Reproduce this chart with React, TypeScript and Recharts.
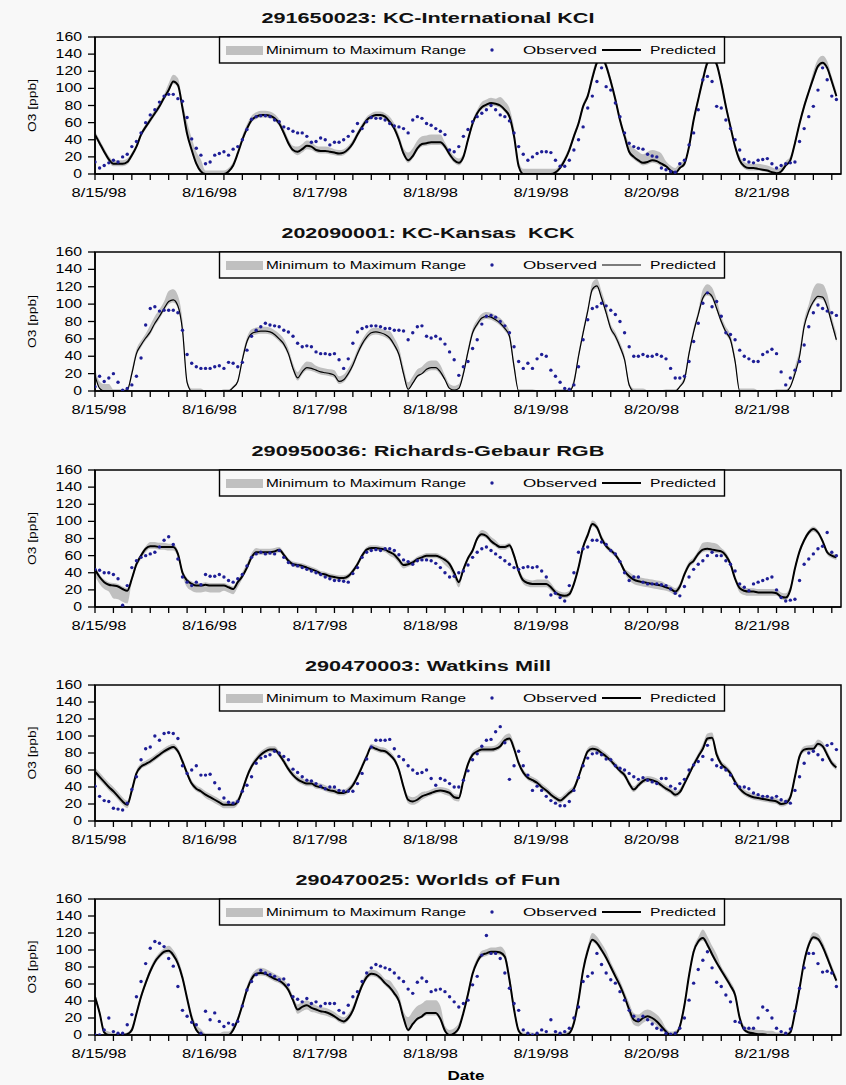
import React from 'react';
import { ComposedChart, Line, Area, XAxis, YAxis, ReferenceArea } from 'recharts';

const FONT = 'Liberation Sans, Arial, sans-serif';
const BG = '#f8f8f8';
const DOT = '#1e1e96';
const BAND = '#c0c0c0';

const dayLabels = ['8/15/98', '8/16/98', '8/17/98', '8/18/98', '8/19/98', '8/20/98', '8/21/98'];
const yTicks = [0, 20, 40, 60, 80, 100, 120, 140, 160];
const xTicks = [0, 4, 8, 12, 16, 20, 24, 28, 32, 36, 40, 44, 48, 52, 56, 60, 64, 68, 72, 76, 80, 84, 88, 92, 96, 100, 104, 108, 112, 116, 120, 124, 128, 132, 136, 140, 144, 148, 152, 156, 160];
const hours = Array.from({ length: 162 }, (_, i) => i);

// ---------- Panel 1: KCI ----------
const p1Pred = [
  46, 36, 26, 17, 12, 12, 12, 14, 22, 32, 46, 55,
  63, 71, 79, 89, 98, 108, 104, 77, 47, 28, 12, 3,
  0, 0, 0, 0, 0, 3, 10, 24, 40, 53, 63, 67,
  69, 69, 68, 65, 59, 48, 36, 28, 26, 29, 33, 32,
  28, 27, 27, 26, 25, 24, 25, 29, 36, 46, 55, 63,
  67, 69, 69, 67, 61, 53, 40, 24, 16, 21, 30, 35,
  36, 37, 37, 37, 32, 23, 16, 13, 20, 40, 59, 71,
  78, 81, 83, 82, 80, 75, 67, 44, 9, 0, 0, 0,
  0, 0, 0, 0, 2, 7, 16, 28, 44, 59, 79, 91,
  112, 130, 137, 126, 108, 87, 63, 44, 26, 20, 16, 13,
  14, 16, 15, 12, 9, 4, 1, 7, 12, 32, 63, 87,
  110, 130, 135, 128, 106, 79, 55, 32, 16, 9, 7, 7,
  6, 5, 4, 2, 1, 3, 10, 16, 36, 59, 79, 96,
  112, 126, 130, 124, 108, 91,
];
const p1Obs = [
  14, 7, 10, 13, 16, 14, 20, 23, 32, 38, 48, 60,
  69, 75, 84, 91, 93, 93, 88, 85, 66, 41, 30, 22,
  12, 14, 22, 24, 26, 22, 29, 32, 40, 52, 64, 67,
  68, 68, 67, 63, 61, 55, 53, 50, 48, 48, 44, 37,
  38, 42, 40, 34, 37, 37, 40, 44, 50, 59, 53, 61,
  66, 65, 65, 63, 59, 56, 55, 53, 48, 63, 67, 65,
  59, 57, 53, 50, 46, 28, 26, 32, 44, 52, 61, 67,
  71, 75, 80, 75, 69, 67, 62, 48, 32, 23, 16, 20,
  24, 26, 26, 25, 16, 9, 9, 16, 28, 40, 55, 77,
  91, 108, 124, 102, 98, 83, 67, 48, 36, 32, 30, 29,
  23, 21, 20, 7, 5, 3, 2, 12, 16, 34, 48, 75,
  110, 114, 108, 79, 77, 63, 53, 40, 28, 17, 14, 13,
  16, 17, 18, 12, 7, 10, 12, 13, 14, 38, 53, 67,
  79, 98, 124, 110, 91, 87,
];
const p1Lo = [3, 3, 3, 3, 3, 2, 0, 1, 3, 3, 3, 4, 3, 3, 3, 3, 3, 3, 3, 3, 3, 3, 3, 0, 0, 2, 3, 3, 3, 3, 3, 1, 3, 3, 3, 3, 2, 1, 3, 3, 3];
const p1Hi = [4, 4, 3, 4, 8, 14, 4, 4, 5, 5, 5, 6, 5, 4, 4, 4, 6, 9, 9, 5, 4, 6, 10, 6, 6, 4, 4, 6, 5, 10, 12, 6, 4, 6, 5, 5, 6, 5, 4, 8, 6];

// ---------- Panel 2: KCK ----------
const p2Pred = [
  18, 3, 0, 0, 0, 0, 0, 1, 20, 43, 53, 61,
  68, 78, 86, 95, 103, 105, 98, 70, 10, 0, 0, 0,
  0, 0, 0, 0, 0, 0, 4, 11, 36, 57, 66, 68,
  69, 69, 68, 65, 60, 54, 43, 26, 15, 22, 27, 26,
  24, 22, 21, 20, 18, 11, 13, 20, 30, 43, 54, 62,
  67, 68, 67, 65, 61, 53, 42, 20, 2, 9, 17, 20,
  25, 27, 27, 22, 13, 3, 1, 3, 20, 45, 67, 77,
  84, 86, 85, 82, 78, 72, 63, 28, 0, 0, 0, 0,
  0, 0, 0, 0, 0, 0, 0, 0, 10, 40, 67, 92,
  117, 121, 107, 90, 72, 63, 51, 36, 7, 0, 0, 0,
  0, 0, 0, 0, 0, 0, 0, 5, 13, 43, 68, 88,
  107, 113, 109, 95, 80, 68, 59, 34, 0, 0, 0, 0,
  0, 0, 0, 0, 0, 0, 0, 5, 20, 40, 74, 92,
  103, 109, 108, 97, 78, 59,
];
const p2Obs = [
  5, 17, 11, 15, 20, 10, 1, 3, 7, 17, 38, 76,
  95, 97, 92, 93, 93, 93, 90, 70, 42, 32, 28, 26,
  26, 26, 28, 29, 26, 33, 32, 28, 33, 47, 63, 70,
  74, 78, 76, 75, 74, 70, 68, 63, 55, 51, 52, 51,
  45, 43, 43, 42, 43, 36, 26, 37, 55, 68, 72, 74,
  75, 75, 74, 72, 72, 70, 70, 69, 59, 67, 74, 75,
  63, 61, 63, 60, 54, 45, 36, 18, 28, 34, 49, 59,
  77, 86, 87, 85, 80, 75, 67, 51, 34, 26, 32, 26,
  37, 42, 40, 24, 17, 10, 3, 2, 7, 28, 59, 82,
  95, 97, 101, 98, 93, 88, 80, 67, 51, 40, 40, 42,
  40, 40, 42, 40, 37, 26, 15, 15, 17, 34, 57, 78,
  101, 113, 97, 103, 86, 67, 65, 59, 47, 40, 37, 34,
  34, 42, 45, 48, 43, 22, 7, 15, 24, 34, 53, 74,
  90, 99, 95, 92, 90, 87,
];
const p2Lo = [0, 0, 3, 3, 3, 2, 0, 0, 3, 3, 3, 3, 3, 3, 3, 3, 3, 1, 3, 1, 3, 3, 3, 0, 0, 0, 3, 3, 3, 2, 0, 0, 3, 3, 3, 0, 0, 0, 3, 3, 3];
const p2Hi = [8, 2, 5, 8, 12, 3, 0, 2, 5, 5, 6, 7, 5, 6, 5, 5, 8, 8, 8, 5, 5, 5, 6, 2, 1, 2, 5, 8, 5, 3, 1, 2, 5, 10, 6, 3, 1, 2, 8, 15, 8];

// ---------- Panel 3: RGB ----------
const p3Pred = [
  44, 35, 29, 26, 25, 24, 21, 19, 33, 50, 60, 68,
  71, 71, 70, 70, 70, 70, 62, 40, 31, 27, 25, 25,
  26, 25, 25, 25, 25, 23, 21, 29, 36, 46, 58, 64,
  64, 64, 64, 65, 67, 61, 54, 50, 49, 48, 46, 44,
  42, 39, 38, 36, 35, 34, 34, 36, 42, 50, 60, 67,
  69, 69, 68, 67, 64, 61, 55, 49, 50, 52, 56, 58,
  60, 60, 60, 58, 55, 50, 40, 29, 44, 57, 66, 80,
  85, 83, 77, 73, 70, 70, 72, 60, 42, 31, 28, 27,
  27, 27, 27, 23, 17, 14, 13, 15, 27, 46, 70, 84,
  97, 93, 80, 71, 66, 61, 53, 42, 36, 32, 30, 29,
  28, 27, 26, 25, 23, 21, 18, 24, 38, 49, 54, 62,
  67, 68, 67, 66, 65, 60, 50, 33, 22, 19, 18, 18,
  17, 17, 17, 17, 16, 12, 11, 20, 45, 65, 78, 87,
  91, 87, 77, 64, 60, 58,
];
const p3Obs = [
  44, 43, 40, 40, 38, 33, 2, 25, 46, 54, 58, 60,
  62, 64, 70, 78, 82, 73, 56, 35, 29, 25, 29, 26,
  38, 36, 36, 38, 35, 31, 29, 33, 38, 48, 58, 62,
  64, 62, 63, 62, 66, 58, 52, 49, 48, 46, 44, 42,
  40, 38, 35, 33, 31, 31, 30, 29, 39, 46, 58, 64,
  66, 67, 66, 68, 68, 66, 61, 55, 53, 50, 54, 55,
  55, 54, 51, 46, 40, 35, 36, 40, 42, 49, 58, 64,
  68, 70, 66, 62, 58, 54, 50, 46, 44, 46, 47, 46,
  47, 42, 35, 14, 16, 11, 7, 25, 40, 64, 68, 70,
  78, 78, 76, 73, 66, 62, 53, 40, 31, 35, 35, 29,
  27, 27, 27, 26, 25, 21, 16, 13, 24, 35, 44, 50,
  54, 60, 64, 60, 60, 54, 50, 42, 27, 23, 19, 27,
  29, 31, 33, 35, 20, 11, 7, 8, 9, 31, 50, 56,
  62, 68, 71, 87, 64, 60,
];
const p3Lo = [8, 15, 4, 3, 4, 8, 8, 6, 3, 3, 3, 3, 3, 3, 3, 3, 4, 3, 3, 6, 3, 3, 3, 4, 4, 3, 3, 3, 3, 5, 5, 4, 3, 3, 3, 5, 4, 3, 3, 3, 3];
const p3Hi = [3, 3, 3, 5, 4, 3, 3, 3, 5, 4, 3, 3, 3, 3, 3, 3, 3, 3, 3, 3, 3, 5, 3, 4, 5, 4, 4, 4, 3, 5, 5, 4, 4, 8, 4, 4, 4, 5, 3, 3, 3];

// ---------- Panel 4: Watkins Mill ----------
const p4Pred = [
  58, 52, 46, 40, 35, 29, 23, 19, 36, 56, 64, 67,
  70, 74, 78, 82, 85, 87, 82, 70, 56, 44, 38, 35,
  31, 28, 25, 22, 19, 19, 19, 23, 36, 52, 64, 72,
  78, 82, 84, 84, 78, 70, 61, 54, 49, 46, 44, 44,
  41, 40, 38, 36, 35, 33, 33, 36, 42, 52, 64, 76,
  87, 85, 83, 82, 78, 72, 60, 40, 25, 23, 25, 29,
  31, 33, 35, 36, 35, 33, 28, 27, 48, 67, 78, 82,
  84, 84, 84, 85, 88, 95, 97, 85, 68, 57, 51, 48,
  45, 40, 36, 31, 27, 24, 28, 33, 38, 52, 68, 82,
  85, 84, 80, 76, 71, 65, 59, 54, 44, 37, 42, 47,
  49, 48, 46, 42, 38, 35, 31, 34, 44, 55, 66, 76,
  85, 97, 98, 78, 67, 62, 56, 46, 38, 33, 30, 28,
  27, 26, 25, 24, 23, 20, 21, 28, 52, 76, 84, 85,
  85, 91, 88, 78, 68, 63,
];
const p4Obs = [
  41, 29, 24, 23, 15, 14, 13, 21, 37, 52, 72, 85,
  87, 100, 95, 103, 104, 103, 97, 65, 56, 60, 65, 54,
  54, 55, 45, 38, 27, 22, 21, 23, 35, 42, 52, 68,
  74, 76, 78, 82, 80, 76, 72, 61, 57, 52, 48, 47,
  44, 41, 38, 40, 40, 36, 35, 35, 35, 44, 56, 73,
  87, 95, 95, 95, 96, 85, 76, 72, 65, 60, 56, 57,
  60, 50, 42, 50, 48, 44, 40, 40, 48, 59, 72, 79,
  88, 95, 96, 105, 111, 92, 49, 65, 82, 65, 54, 36,
  41, 36, 29, 24, 21, 18, 18, 23, 36, 51, 65, 74,
  79, 80, 78, 73, 72, 65, 62, 60, 56, 52, 49, 51,
  48, 46, 44, 50, 50, 41, 38, 44, 49, 60, 66, 70,
  76, 89, 72, 65, 63, 60, 54, 44, 40, 40, 38, 33,
  31, 29, 29, 27, 29, 25, 23, 21, 36, 52, 68, 80,
  82, 78, 72, 89, 91, 84,
];
const p4Lo = [4, 4, 3, 3, 3, 3, 4, 4, 3, 3, 3, 3, 3, 3, 3, 3, 3, 4, 3, 4, 3, 3, 3, 3, 3, 3, 3, 3, 3, 3, 3, 3, 3, 3, 3, 3, 3, 3, 3, 3, 3];
const p4Hi = [5, 5, 4, 4, 4, 4, 4, 4, 4, 4, 4, 4, 4, 4, 4, 4, 4, 5, 4, 4, 4, 4, 6, 4, 4, 4, 4, 4, 4, 4, 4, 4, 4, 6, 4, 4, 4, 4, 4, 5, 4];

// ---------- Panel 5: Worlds of Fun ----------
const p5Pred = [
  45, 26, 3, 0, 0, 0, 0, 1, 6, 25, 45, 61,
  75, 86, 93, 98, 99, 94, 84, 67, 43, 20, 6, 1,
  0, 0, 0, 0, 0, 0, 6, 18, 35, 53, 66, 72,
  73, 72, 69, 66, 64, 60, 53, 41, 30, 33, 35, 32,
  30, 28, 27, 25, 22, 18, 16, 20, 29, 44, 58, 68,
  72, 71, 67, 61, 56, 49, 40, 20, 6, 13, 19, 22,
  26, 26, 26, 19, 5, 0, 2, 8, 26, 48, 72, 86,
  94, 96, 98, 98, 97, 92, 65, 30, 5, 0, 0, 0,
  0, 0, 0, 0, 0, 0, 0, 2, 14, 41, 76, 99,
  112, 108, 100, 91, 80, 69, 58, 45, 30, 18, 16, 20,
  22, 20, 16, 10, 4, 0, 1, 10, 35, 70, 98, 110,
  114, 106, 95, 85, 76, 67, 58, 47, 20, 6, 3, 2,
  1, 1, 0, 0, 0, 0, 0, 3, 26, 55, 86, 106,
  115, 113, 104, 91, 77, 64,
];
const p5Obs = [
  0, 0, 6, 20, 4, 2, 2, 12, 24, 45, 63, 84,
  102, 110, 108, 104, 90, 81, 57, 29, 22, 15, 12, 2,
  28, 18, 26, 16, 10, 14, 12, 16, 34, 53, 63, 71,
  76, 73, 71, 69, 65, 66, 59, 45, 42, 39, 43, 37,
  39, 34, 37, 37, 37, 29, 26, 35, 45, 51, 63, 73,
  79, 83, 81, 79, 77, 73, 67, 63, 54, 49, 62, 67,
  63, 51, 53, 54, 51, 45, 39, 33, 37, 41, 59, 69,
  94, 117, 96, 96, 90, 73, 55, 37, 29, 6, 2, 0,
  2, 6, 4, 18, 4, 2, 4, 8, 20, 33, 63, 69,
  73, 96, 83, 73, 65, 61, 51, 41, 29, 22, 18, 22,
  18, 13, 8, 6, 2, 1, 2, 8, 20, 41, 61, 77,
  88, 98, 79, 62, 57, 47, 39, 16, 15, 8, 8, 8,
  20, 33, 29, 20, 8, 4, 2, 7, 28, 55, 79, 96,
  96, 84, 74, 75, 73, 57,
];
const p5Lo = [2, 0, 3, 3, 3, 2, 0, 2, 3, 3, 3, 5, 4, 3, 3, 3, 3, 2, 3, 2, 3, 3, 3, 1, 0, 0, 3, 3, 3, 6, 5, 1, 3, 3, 3, 2, 1, 0, 3, 3, 3];
const p5Hi = [4, 2, 4, 4, 6, 6, 2, 4, 5, 6, 5, 6, 5, 5, 5, 5, 8, 15, 15, 6, 5, 5, 7, 3, 2, 3, 6, 8, 6, 8, 8, 4, 5, 10, 5, 5, 5, 3, 5, 6, 5];

const titles = [
  '291650023: KC-International KCI',
  '202090001: KC-Kansas\u00a0\u00a0KCK',
  '290950036: Richards-Gebaur RGB',
  '290470003: Watkins Mill',
  '290470025: Worlds of Fun',
];

const panels = [
  { title: titles[0], tw: 333, pred: p1Pred, obs: p1Obs, lo: p1Lo, hi: p1Hi, top: 37, h: 137, lw: 2 },
  { title: titles[1], tw: 293, pred: p2Pred, obs: p2Obs, lo: p2Lo, hi: p2Hi, top: 252, h: 139, lw: 1.2 },
  { title: titles[2], tw: 353, pred: p3Pred, obs: p3Obs, lo: p3Lo, hi: p3Hi, top: 470, h: 137, lw: 2 },
  { title: titles[3], tw: 246, pred: p4Pred, obs: p4Obs, lo: p4Lo, hi: p4Hi, top: 685, h: 136, lw: 2 },
  { title: titles[4], tw: 265, pred: p5Pred, obs: p5Obs, lo: p5Lo, hi: p5Hi, top: 899, h: 136, lw: 2 },
];

function XTick(props: any) {
  const { x, y, payload } = props;
  const v = payload.value;
  if (v % 24 !== 0) return <g />;
  const lbl = dayLabels[v / 24];
  return (
    <text x={x + 4} y={y + 15} textAnchor="middle" fontSize={12} fontFamily={FONT} fill="#000"
      textLength={55} lengthAdjust="spacingAndGlyphs">{lbl}</text>
  );
}

function YTick(props: any) {
  const { x, y, payload } = props;
  const s = String(payload.value);
  return (
    <text x={x} y={y + 4} textAnchor="end" fontSize={12} fontFamily={FONT} fill="#000"
      textLength={s.length * 8.8} lengthAdjust="spacingAndGlyphs">{s}</text>
  );
}

function renderDot(props: any) {
  const { cx, cy, index } = props;
  if (cx == null || cy == null) return <g key={`d${index}`} />;
  return <circle key={`d${index}`} cx={cx} cy={cy} r={1.7} fill={DOT} />;
}

function Panel({ p }: { p: any }) {
  const data = hours.map((h, i) => {
    const g = Math.floor(h / 4);
    return {
      h,
      pred: p.pred[i],
      obs: p.obs[i],
      band: [Math.max(0, p.pred[i] - p.lo[g]), p.pred[i] + p.hi[g]],
    };
  });
  return (
    <div style={{ position: 'absolute', left: 0, top: p.top - 10 }}>
      <ComposedChart width={846} height={p.h + 40} data={data} margin={{ top: 10, right: 5, bottom: 0, left: 35 }}>
        <XAxis dataKey="h" type="number" domain={[0, 162]} ticks={xTicks} interval={0} tick={XTick}
          tickSize={6} height={30} axisLine={{ stroke: '#000', strokeWidth: 1.5 }}
          tickLine={{ stroke: '#000', strokeWidth: 1.3 }} allowDataOverflow />
        <YAxis type="number" domain={[0, 160]} ticks={yTicks} interval={0} tick={YTick}
          tickSize={7} tickMargin={6} width={60} axisLine={{ stroke: '#000', strokeWidth: 1.5 }}
          tickLine={{ stroke: '#000', strokeWidth: 1.3 }} allowDataOverflow />
        <Area dataKey="band" type="monotone" stroke="none" fill={BAND} fillOpacity={1} isAnimationActive={false} />
        <Line dataKey="pred" type="monotone" stroke="#000" strokeWidth={p.lw} dot={false} isAnimationActive={false} />
        <Line dataKey="obs" stroke="none" dot={renderDot} activeDot={false} isAnimationActive={false} />
        <ReferenceArea x1={0} x2={162} y1={0} y2={160} fill="none" stroke="#000" strokeWidth={1.5} ifOverflow="visible" />
      </ComposedChart>
    </div>
  );
}

function Overlay() {
  return (
    <svg width={846} height={1085} style={{ position: 'absolute', left: 0, top: 0, pointerEvents: 'none' }}>
      {panels.map((p, i) => {
        const T = p.top;
        const cy = T + p.h / 2;
        return (
          <g key={i} fontFamily={FONT}>
            <text x={428} y={T - 14} textAnchor="middle" fontSize={14} fontWeight="bold" fill="#111"
              textLength={p.tw} lengthAdjust="spacingAndGlyphs">{p.title}</text>
            <text transform={`translate(36, ${cy}) rotate(-90)`} textAnchor="middle" fontSize={11} fill="#000"
              textLength={53} lengthAdjust="spacingAndGlyphs">O3 [ppb]</text>
            <rect x={219.5} y={T} width={505} height={26} fill={BG} stroke="#000" strokeWidth={1.4} />
            <rect x={226} y={T + 9} width={37} height={9} fill={BAND} />
            <text x={266} y={T + 17} fontSize={11} fill="#000" textLength={200} lengthAdjust="spacingAndGlyphs">Minimum to Maximum Range</text>
            <circle cx={492} cy={T + 13} r={1.7} fill={DOT} />
            <text x={523} y={T + 17} fontSize={11} fill="#000" textLength={74} lengthAdjust="spacingAndGlyphs">Observed</text>
            <line x1={602} x2={641} y1={T + 13} y2={T + 13} stroke="#000" strokeWidth={p.lw} />
            <text x={650} y={T + 17} fontSize={11} fill="#000" textLength={66} lengthAdjust="spacingAndGlyphs">Predicted</text>
          </g>
        );
      })}
      <text x={466} y={1080} textAnchor="middle" fontSize={12} fontWeight="bold" fontFamily={FONT} fill="#000"
        textLength={37} lengthAdjust="spacingAndGlyphs">Date</text>
    </svg>
  );
}

export default function App() {
  return (
    <div style={{ position: 'absolute', left: 0, top: 0, width: 846, height: 1085, background: BG, overflow: 'hidden' }}>
      {panels.map((p, i) => <Panel key={i} p={p} />)}
      <Overlay />
    </div>
  );
}
